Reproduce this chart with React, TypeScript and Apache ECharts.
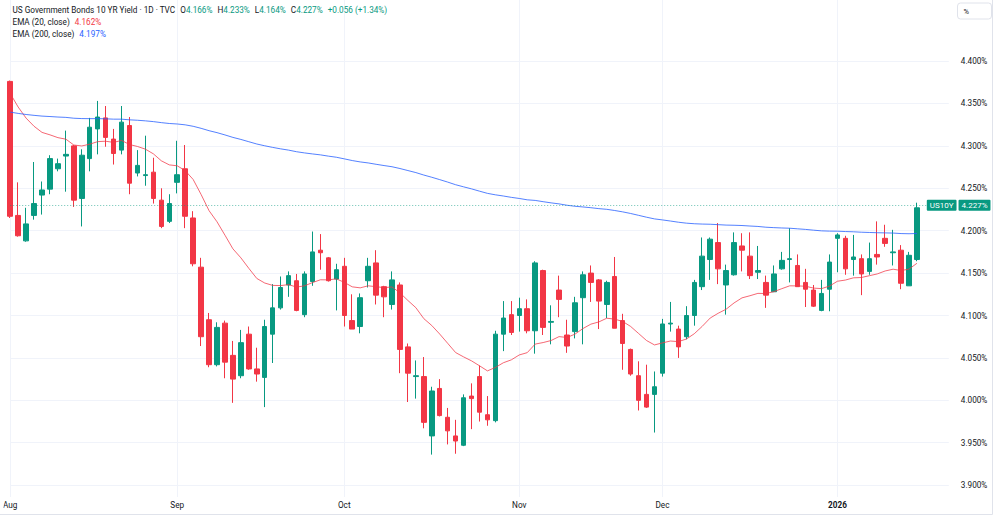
import React, { useEffect, useRef } from "react";
import * as echarts from "echarts";

// Trading sessions shown on the chart (US bond market days)
const tradingDates = [
  "2025-08-01", "2025-08-04", "2025-08-05", "2025-08-06", "2025-08-07", "2025-08-08",
  "2025-08-11", "2025-08-12", "2025-08-13", "2025-08-14", "2025-08-15",
  "2025-08-18", "2025-08-19", "2025-08-20", "2025-08-21", "2025-08-22",
  "2025-08-25", "2025-08-26", "2025-08-27", "2025-08-28", "2025-08-29",
  "2025-09-02", "2025-09-03", "2025-09-04", "2025-09-05",
  "2025-09-08", "2025-09-09", "2025-09-10", "2025-09-11", "2025-09-12",
  "2025-09-15", "2025-09-16", "2025-09-17", "2025-09-18", "2025-09-19",
  "2025-09-22", "2025-09-23", "2025-09-24", "2025-09-25", "2025-09-26",
  "2025-09-29", "2025-09-30",
  "2025-10-01", "2025-10-02", "2025-10-03",
  "2025-10-06", "2025-10-07", "2025-10-08", "2025-10-09", "2025-10-10",
  "2025-10-14", "2025-10-15", "2025-10-16", "2025-10-17",
  "2025-10-20", "2025-10-21", "2025-10-22", "2025-10-23", "2025-10-24",
  "2025-10-27", "2025-10-28", "2025-10-29", "2025-10-30", "2025-10-31",
  "2025-11-03", "2025-11-04", "2025-11-05", "2025-11-06", "2025-11-07",
  "2025-11-10", "2025-11-12", "2025-11-13", "2025-11-14",
  "2025-11-17", "2025-11-18", "2025-11-19", "2025-11-20", "2025-11-21",
  "2025-11-24", "2025-11-25", "2025-11-26", "2025-11-28",
  "2025-12-01", "2025-12-02", "2025-12-03", "2025-12-04", "2025-12-05",
  "2025-12-08", "2025-12-09", "2025-12-10", "2025-12-11", "2025-12-12",
  "2025-12-15", "2025-12-16", "2025-12-17", "2025-12-18", "2025-12-19",
  "2025-12-22", "2025-12-23", "2025-12-24", "2025-12-26",
  "2025-12-29", "2025-12-30", "2025-12-31",
  "2026-01-02", "2026-01-05", "2026-01-06", "2026-01-07", "2026-01-08", "2026-01-09",
  "2026-01-12", "2026-01-13", "2026-01-14", "2026-01-15", "2026-01-16",
];

// Daily OHLC of the US 10-year yield, in percent
const opens = [
  4.376, 4.218, 4.188, 4.218, 4.242, 4.249, 4.273, 4.288, 4.300, 4.238,
  4.285, 4.320, 4.333, 4.308, 4.295, 4.324, 4.268, 4.265, 4.269, 4.236,
  4.211, 4.257, 4.273, 4.215, 4.157, 4.095, 4.042, 4.091, 4.053, 4.029,
  4.078, 4.037, 4.027, 4.078, 4.109, 4.136, 4.141, 4.101, 4.140, 4.177,
  4.168, 4.143, 4.158, 4.094, 4.087, 4.141, 4.162, 4.134, 4.113, 4.136,
  4.063, 4.028, 4.028, 3.958, 4.014, 3.980, 3.958, 3.947, 4.005, 4.028,
  3.983, 3.976, 4.078, 4.101, 4.100, 4.108, 4.082, 4.153, 4.092, 4.130,
  4.077, 4.081, 4.121, 4.150, 4.142, 4.113, 4.146, 4.094, 4.060, 4.029,
  4.007, 4.007, 4.032, 4.090, 4.084, 4.075, 4.100, 4.134, 4.166, 4.186,
  4.136, 4.148, 4.182, 4.170, 4.151, 4.139, 4.128, 4.155, 4.166, 4.159,
  4.139, 4.130, 4.106, 4.131, 4.191, 4.191, 4.166, 4.167, 4.152, 4.172,
  4.191, 4.174, 4.177, 4.135, 4.166,
];
const highs = [
  4.377, 4.257, 4.227, 4.281, 4.258, 4.289, 4.285, 4.318, 4.301, 4.296,
  4.333, 4.353, 4.347, 4.320, 4.347, 4.334, 4.295, 4.312, 4.286, 4.250,
  4.243, 4.306, 4.301, 4.223, 4.168, 4.103, 4.092, 4.094, 4.070, 4.083,
  4.087, 4.062, 4.095, 4.137, 4.146, 4.152, 4.149, 4.152, 4.199, 4.196,
  4.169, 4.161, 4.168, 4.125, 4.126, 4.168, 4.177, 4.135, 4.152, 4.139,
  4.067, 4.047, 4.051, 4.016, 4.025, 3.991, 3.977, 4.007, 4.020, 4.041,
  4.005, 4.082, 4.117, 4.117, 4.121, 4.119, 4.164, 4.154, 4.112, 4.147,
  4.095, 4.122, 4.152, 4.159, 4.143, 4.141, 4.169, 4.102, 4.061, 4.046,
  4.042, 4.034, 4.096, 4.116, 4.088, 4.111, 4.142, 4.192, 4.192, 4.209,
  4.160, 4.198, 4.197, 4.198, 4.182, 4.147, 4.159, 4.175, 4.203, 4.172,
  4.155, 4.136, 4.142, 4.172, 4.197, 4.194, 4.195, 4.172, 4.186, 4.211,
  4.207, 4.201, 4.183, 4.175, 4.233,
];
const lows = [
  4.215, 4.193, 4.187, 4.213, 4.219, 4.243, 4.270, 4.246, 4.228, 4.205,
  4.270, 4.290, 4.299, 4.278, 4.290, 4.243, 4.264, 4.253, 4.232, 4.203,
  4.209, 4.244, 4.203, 4.158, 4.064, 4.039, 4.040, 4.026, 3.997, 4.026,
  4.036, 4.022, 3.992, 4.044, 4.107, 4.122, 4.105, 4.098, 4.135, 4.154,
  4.140, 4.106, 4.087, 4.084, 4.079, 4.133, 4.113, 4.098, 4.107, 4.032,
  3.998, 4.002, 3.967, 3.936, 3.981, 3.948, 3.937, 3.946, 3.966, 3.975,
  3.970, 3.974, 4.058, 4.077, 4.081, 4.079, 4.055, 4.077, 4.066, 4.098,
  4.056, 4.073, 4.066, 4.116, 4.084, 4.097, 4.085, 4.036, 4.029, 3.988,
  3.991, 3.962, 4.028, 4.081, 4.050, 4.072, 4.088, 4.130, 4.142, 4.137,
  4.101, 4.147, 4.152, 4.143, 4.143, 4.109, 4.128, 4.154, 4.139, 4.134,
  4.110, 4.110, 4.105, 4.105, 4.151, 4.148, 4.147, 4.124, 4.148, 4.160,
  4.181, 4.159, 4.131, 4.135, 4.164,
];
const closes = [
  4.217, 4.194, 4.208, 4.232, 4.248, 4.285, 4.279, 4.290, 4.236, 4.289,
  4.322, 4.334, 4.310, 4.291, 4.328, 4.256, 4.277, 4.266, 4.238, 4.205,
  4.232, 4.266, 4.217, 4.161, 4.075, 4.042, 4.086, 4.045, 4.025, 4.068,
  4.037, 4.031, 4.087, 4.109, 4.133, 4.147, 4.106, 4.149, 4.175, 4.174,
  4.141, 4.154, 4.100, 4.084, 4.121, 4.158, 4.124, 4.122, 4.142, 4.060,
  4.032, 4.029, 3.974, 4.011, 3.982, 3.964, 3.952, 4.003, 4.002, 3.986,
  3.977, 4.078, 4.097, 4.080, 4.108, 4.082, 4.162, 4.086, 4.093, 4.119,
  4.064, 4.115, 4.148, 4.139, 4.117, 4.139, 4.085, 4.067, 4.031, 4.000,
  3.992, 4.016, 4.090, 4.091, 4.063, 4.100, 4.139, 4.170, 4.190, 4.155,
  4.153, 4.186, 4.177, 4.147, 4.153, 4.124, 4.149, 4.165, 4.167, 4.134,
  4.131, 4.111, 4.126, 4.163, 4.195, 4.155, 4.169, 4.149, 4.167, 4.169,
  4.185, 4.175, 4.138, 4.171, 4.227,
];

// EMA values of the session before the first bar (carry-over from earlier history)
const EMA20_PREV = 4.377;
const EMA200_PREV = 4.341;

// Price scale labels
const yTicks = [3.9, 3.95, 4.0, 4.05, 4.1, 4.15, 4.2, 4.25, 4.3, 4.35, 4.4];
const monthNames = ["Jan", "Feb", "Mar", "Apr", "May", "Jun", "Jul", "Aug", "Sep", "Oct", "Nov", "Dec"];

const SYMBOL = "US10Y";
const TITLE = "US Government Bonds 10 YR Yield · 1D · TVC";
const RIGHT_OFFSET_BARS = 4;

const UP = "#089981";
const DOWN = "#f23645";
const EMA_FAST_COLOR = "#f23645";
const EMA_SLOW_COLOR = "#2962ff";
const TEXT = "#131722";
const GRID_LINE = "#f0f3fa";
const FONT = "Roboto, sans-serif";

function ema(values: number[], period: number, prev: number): number[] {
  const k = 2 / (period + 1);
  const out: number[] = [];
  let e = prev;
  for (const v of values) {
    e = k * v + (1 - k) * e;
    out.push(Math.round(e * 10000) / 10000);
  }
  return out;
}

const pct = (v: number) => v.toFixed(3) + "%";

export default function App() {
  const ref = useRef<HTMLDivElement>(null);

  useEffect(() => {
    if (!ref.current) return;
    const chart = echarts.init(ref.current, undefined, { renderer: "svg" });

    const n = closes.length;
    const ema20 = ema(closes, 20, EMA20_PREV);
    const ema200 = ema(closes, 200, EMA200_PREV);
    const categories = [...tradingDates, ...Array(RIGHT_OFFSET_BARS).fill("")];

    const monthStarts = new Set<number>();
    tradingDates.forEach((d, i) => {
      if (i === 0 || d.slice(0, 7) !== tradingDates[i - 1].slice(0, 7)) monthStarts.add(i);
    });

    const last = n - 1;
    const lastClose = closes[last];
    const change = lastClose - closes[last - 1];
    const changePct = (change / closes[last - 1]) * 100;
    const lastUp = lastClose >= opens[last];
    const lastColor = lastUp ? UP : DOWN;
    const sign = change >= 0 ? "+" : "−";

    const candleData = opens.map((o, i) => [o, closes[i], lows[i], highs[i]]);

    const fs = 8.2;
    const legendLine1 =
      `{t|${TITLE}}` +
      `{k|O}{v|${pct(opens[last])}}` +
      `{k|H}{v|${pct(highs[last])}}` +
      `{k|L}{v|${pct(lows[last])}}` +
      `{k|C}{v|${pct(lastClose)}}` +
      `{c|${sign}${Math.abs(change).toFixed(3)} (${sign}${Math.abs(changePct).toFixed(2)}%)}`;

    chart.setOption({
      animation: false,
      backgroundColor: "#ffffff",
      textStyle: { fontFamily: FONT },
      grid: { left: 6.25, right: 51.2, top: 0, bottom: 21, containLabel: false },
      xAxis: {
        type: "category",
        data: categories,
        boundaryGap: false,
        axisLine: { show: false },
        axisTick: { show: false },
        axisLabel: {
          interval: (idx: number) => monthStarts.has(idx),
          formatter: (value: string) => {
            if (!value) return "";
            const [y, m] = value.split("-");
            return m === "01" ? `{yr|${y}}` : monthNames[+m - 1];
          },
          alignMinLabel: "center",
          color: TEXT,
          fontSize: fs,
          fontFamily: FONT,
          margin: 4,
          rich: { yr: { fontWeight: "bold", fontSize: fs, color: TEXT, fontFamily: FONT } },
        },
        splitLine: {
          show: true,
          interval: (idx: number) => monthStarts.has(idx),
          lineStyle: { color: GRID_LINE, width: 1 },
        },
      },
      yAxis: {
        type: "value",
        position: "right",
        min: 3.886,
        max: 4.472,
        axisLine: { show: false },
        axisTick: { show: false, customValues: yTicks },
        axisLabel: {
          customValues: yTicks,
          formatter: (v: number) => pct(v),
          color: TEXT,
          fontSize: fs,
          fontFamily: FONT,
          margin: 12,
        },
        splitLine: { show: true, lineStyle: { color: GRID_LINE, width: 1 } },
      },
      series: [
        {
          type: "candlestick",
          name: SYMBOL,
          data: candleData,
          barWidth: 5,
          clip: true,
          itemStyle: {
            color: UP,
            color0: DOWN,
            borderColor: UP,
            borderColor0: DOWN,
            borderWidth: 1,
          },
          markLine: {
            silent: true,
            symbol: ["none", "none"],
            lineStyle: { type: [1, 2], color: "rgba(8, 153, 129, 0.6)", width: 1 },
            label: {
              show: true,
              position: "end",
              distance: -22,
              formatter: () => `{tag|${SYMBOL}}{gap|}{val|${pct(lastClose)}}`,
              rich: {
                tag: {
                  backgroundColor: lastColor, color: "#fff", fontSize: 8, fontFamily: FONT,
                  padding: [2, 3, 1, 3], lineHeight: 10, borderRadius: 1,
                },
                gap: { width: 2, height: 10 },
                val: {
                  backgroundColor: lastColor, color: "#fff", fontSize: 8, fontFamily: FONT,
                  padding: [2, 3, 1, 3], lineHeight: 10, borderRadius: 1,
                },
              },
            },
            data: [{ yAxis: lastClose }],
          },
        },
        {
          type: "line",
          name: "EMA 20",
          data: ema20,
          symbol: "none",
          showSymbol: false,
          clip: true,
          lineStyle: { color: EMA_FAST_COLOR, width: 1, opacity: 0.75 },
          z: 3,
        },
        {
          type: "line",
          name: "EMA 200",
          data: ema200,
          symbol: "none",
          showSymbol: false,
          clip: true,
          lineStyle: { color: EMA_SLOW_COLOR, width: 1, opacity: 0.8 },
          z: 3,
        },
      ],
      graphic: [
        {
          type: "text",
          x: 12.5,
          y: 10,
          z: 100,
          style: {
            text: legendLine1,
            verticalAlign: "middle",
            fontSize: fs,
            fontFamily: FONT,
            rich: {
              t: { fill: TEXT, fontSize: fs, fontFamily: FONT },
              k: { fill: TEXT, fontSize: fs, fontFamily: FONT, padding: [0, 0, 0, 5] },
              v: { fill: lastColor, fontSize: fs, fontFamily: FONT },
              c: { fill: lastColor, fontSize: fs, fontFamily: FONT, padding: [0, 0, 0, 5] },
            },
          },
        },
        {
          type: "text",
          x: 12.5,
          y: 22,
          z: 100,
          style: {
            text: `{t|EMA (20, close)}{v|${pct(ema20[last])}}`,
            verticalAlign: "middle",
            fontSize: fs,
            fontFamily: FONT,
            rich: {
              t: { fill: TEXT, fontSize: fs, fontFamily: FONT },
              v: { fill: EMA_FAST_COLOR, fontSize: fs, fontFamily: FONT, padding: [0, 0, 0, 5] },
            },
          },
        },
        {
          type: "text",
          x: 12.5,
          y: 33.5,
          z: 100,
          style: {
            text: `{t|EMA (200, close)}{v|${pct(ema200[last])}}`,
            verticalAlign: "middle",
            fontSize: fs,
            fontFamily: FONT,
            rich: {
              t: { fill: TEXT, fontSize: fs, fontFamily: FONT },
              v: { fill: EMA_SLOW_COLOR, fontSize: fs, fontFamily: FONT, padding: [0, 0, 0, 5] },
            },
          },
        },
        {
          // scale-mode button in the price-axis corner
          type: "group",
          x: 957.5,
          y: 3,
          z: 100,
          children: [
            {
              type: "rect",
              shape: { x: 0, y: 0, width: 34, height: 16, r: 3 },
              style: { fill: "#ffffff", stroke: "#e0e3eb", lineWidth: 1 },
            },
            {
              type: "text",
              x: 6,
              y: 8,
              style: { text: "%", fill: TEXT, fontSize: 7.5, fontFamily: FONT, verticalAlign: "middle" },
            },
          ],
        },
        {
          // left edge of the time scale pane
          type: "rect",
          z: 100,
          shape: { x: 0, y: 498, width: 3.5, height: 15 },
          style: { fill: "#ffffff" },
        },
        {
          // outer frame of the chart widget
          type: "rect",
          z: 90,
          silent: true,
          shape: { x: -2, y: -2, width: 994.5, height: 516.5 },
          style: { fill: "none", stroke: "#e0e3eb", lineWidth: 1 },
        },
      ],
    });

    return () => chart.dispose();
  }, []);

  return (
    <div
      ref={ref}
      style={{ position: "fixed", left: 0, top: 0, width: 1000, height: 518, background: "#fff" }}
    />
  );
}
